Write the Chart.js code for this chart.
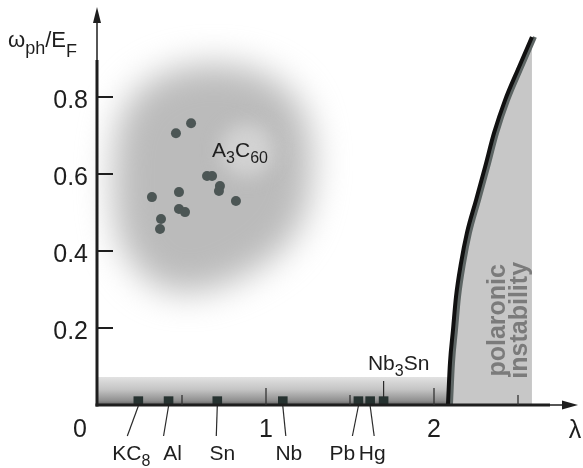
<!DOCTYPE html>
<html>
<head>
<meta charset="utf-8">
<script src="https://cdn.jsdelivr.net/npm/chart.js@4/dist/chart.umd.min.js"></script>
<style>
  html, body { margin: 0; padding: 0; background: #ffffff; }
  canvas { display: block; }
</style>
</head>
<body>
<canvas id="c" width="583" height="468"></canvas>
<script>
// A3C60 fullerides: electron-phonon coupling and phonon/Fermi energy ratio
const fullerideLambda = [0.321, 0.464, 0.554, 0.482, 0.375, 0.369, 0.482, 0.518, 0.649, 0.679, 0.726, 0.720, 0.821];
const fullerideRatio  = [0.540, 0.706, 0.732, 0.553, 0.483, 0.457, 0.509, 0.501, 0.595, 0.595, 0.569, 0.556, 0.530];

// conventional superconductors on the lambda axis
const metalNames  = ['KC8', 'Al', 'Sn', 'Nb', 'Pb', 'Hg', 'Nb3Sn'];
const metalLambda = [0.24, 0.42, 0.71, 1.10, 1.55, 1.62, 1.70];
const metalRatio  = [0.01, 0.01, 0.01, 0.01, 0.01, 0.01, 0.01];

// boundary of the polaronic instability
const boundaryLambda = [2.083, 2.095, 2.113, 2.131, 2.161, 2.196, 2.250, 2.304, 2.357, 2.423, 2.506, 2.583];
const boundaryRatio  = [0.000, 0.109, 0.195, 0.281, 0.369, 0.447, 0.532, 0.618, 0.706, 0.792, 0.878, 0.956];

// adiabatic strip of ordinary metals (omega_ph << E_F)
const stripLambda = [0, 2.083];
const stripRatio  = [0.073, 0.073];

// outline of the fulleride cloud
const cloudLambda = [0.13, 0.42, 0.88, 1.22, 1.30, 1.20, 0.80, 0.40, 0.12, 0.08];
const cloudRatio  = [0.78, 0.88, 0.89, 0.80, 0.62, 0.43, 0.31, 0.28, 0.40, 0.59];

// axis ticks
const xTickValues = [0, 1, 2];
const xTickLabels = ['0', '1', '2'];
const xMarkValues = [0.5, 1, 1.5, 2, 2.5];
const yTickValues = [0.2, 0.4, 0.6, 0.8];
const yTickLabels = ['0.2', '0.4', '0.6', '0.8'];

const FONT = '"Liberation Sans", Arial, Helvetica, sans-serif';
const INK = '#1e1e1e';

// label layout for the metals (pixel offsets from each square)
const metalLabelDx  = [-7, 4, 5, 6, -16, 2, 15];
const metalLeaderDx = [-11, -5, -1, 3, -6, 4, 0];

const pts = (xs, ys) => xs.map((v, i) => ({ x: v, y: ys[i] }));

// draw a sequence of text runs; runs with sub=true are subscripts
function drawRuns(ctx, runs, x, y, size, subSize, align) {
  const widths = runs.map(r => {
    ctx.font = `${r.sub ? subSize : size}px ${FONT}`;
    return ctx.measureText(r.t).width;
  });
  const total = widths.reduce((a, b) => a + b, 0);
  let cx = align === 'center' ? x - total / 2 : x;
  ctx.textAlign = 'left';
  ctx.textBaseline = 'alphabetic';
  runs.forEach((r, i) => {
    ctx.font = `${r.sub ? subSize : size}px ${FONT}`;
    ctx.fillText(r.t, cx, y + (r.sub ? (r.dy || 6) : 0));
    cx += widths[i];
  });
}

// chemical formula: digits become subscripts
function formulaRuns(text) {
  const runs = [];
  for (const ch of text) {
    const sub = /[0-9]/.test(ch);
    const last = runs[runs.length - 1];
    if (last && last.sub === sub) last.t += ch; else runs.push({ t: ch, sub });
  }
  return runs;
}

const cloudPlugin = {
  id: 'cloud',
  beforeDatasetsDraw(chart) {
    const { ctx, scales: { x, y } } = chart;
    const p = cloudLambda.map((v, i) => [x.getPixelForValue(v), y.getPixelForValue(cloudRatio[i])]);
    const n = p.length;
    const mid = (a, b) => [(a[0] + b[0]) / 2, (a[1] + b[1]) / 2];
    ctx.save();
    ctx.filter = 'blur(17px)';
    ctx.fillStyle = '#bbbbbb';
    ctx.beginPath();
    const m0 = mid(p[n - 1], p[0]);
    ctx.moveTo(m0[0], m0[1]);
    for (let i = 0; i < n; i++) {
      const m = mid(p[i], p[(i + 1) % n]);
      ctx.quadraticCurveTo(p[i][0], p[i][1], m[0], m[1]);
    }
    ctx.closePath();
    ctx.fill();
    // lighter patch behind the A3C60 label
    ctx.filter = 'blur(9px)';
    ctx.fillStyle = '#d2d2d2';
    ctx.beginPath();
    ctx.arc(x.getPixelForValue(0.887), y.getPixelForValue(0.662), 27, 0, Math.PI * 2);
    ctx.fill();
    ctx.restore();
  }
};

const shadowPlugin = {
  id: 'boundaryShadow',
  beforeDatasetDraw(chart, args) {
    if (chart.data.datasets[args.index].id !== 'boundaryLine') return;
    const ctx = chart.ctx;
    ctx.save();
    ctx.shadowColor = '#5d6564';
    ctx.shadowOffsetX = 3;
    ctx.shadowOffsetY = 0;
    ctx.shadowBlur = 0;
  },
  afterDatasetDraw(chart, args) {
    if (chart.data.datasets[args.index].id !== 'boundaryLine') return;
    chart.ctx.restore();
  }
};

const axesPlugin = {
  id: 'arrowAxes',
  afterDatasetsDraw(chart) {
    const { ctx, chartArea: a, scales: { x, y } } = chart;
    const x0 = x.getPixelForValue(0) - 1;
    const y0 = y.getPixelForValue(0);
    ctx.save();
    ctx.strokeStyle = INK;
    ctx.fillStyle = INK;
    ctx.lineCap = 'butt';

    // vertical axis with arrow
    ctx.lineWidth = 3;
    ctx.beginPath(); ctx.moveTo(x0, y0 + 1.5); ctx.lineTo(x0, a.top + 52); ctx.stroke();
    ctx.lineWidth = 1.5;
    ctx.beginPath(); ctx.moveTo(x0, a.top + 52); ctx.lineTo(x0, a.top + 12); ctx.stroke();
    ctx.beginPath();
    ctx.moveTo(x0, a.top - 1); ctx.lineTo(x0 - 4, a.top + 15); ctx.lineTo(x0 + 4, a.top + 15);
    ctx.closePath(); ctx.fill();

    // horizontal axis with arrow
    ctx.lineWidth = 3;
    ctx.beginPath(); ctx.moveTo(x0 - 1.5, y0); ctx.lineTo(a.right - 25, y0); ctx.stroke();
    ctx.lineWidth = 1.5;
    ctx.beginPath(); ctx.moveTo(a.right - 25, y0); ctx.lineTo(a.right - 10, y0); ctx.stroke();
    ctx.beginPath();
    ctx.moveTo(a.right + 3, y0); ctx.lineTo(a.right - 13, y0 - 4.5); ctx.lineTo(a.right - 13, y0 + 4.5);
    ctx.closePath(); ctx.fill();

    // tick marks
    ctx.lineWidth = 2;
    yTickValues.forEach(v => {
      const py = y.getPixelForValue(v);
      ctx.beginPath(); ctx.moveTo(x0, py); ctx.lineTo(x0 + 16, py); ctx.stroke();
    });
    ctx.lineWidth = 1.3;
    ctx.strokeStyle = '#333333';
    xMarkValues.forEach(v => {
      const px = x.getPixelForValue(v);
      const len = Number.isInteger(v) ? 17 : 10;
      ctx.beginPath(); ctx.moveTo(px, y0); ctx.lineTo(px, y0 - len); ctx.stroke();
    });

    // tick labels
    ctx.fillStyle = INK;
    ctx.font = `25px ${FONT}`;
    ctx.textBaseline = 'alphabetic';
    ctx.textAlign = 'center';
    xTickValues.forEach((v, i) => {
      const px = x.getPixelForValue(v) + (v === 0 ? -18 : 0);
      ctx.fillText(xTickLabels[i], px, y0 + 32);
    });
    ctx.textAlign = 'right';
    yTickValues.forEach((v, i) => {
      ctx.fillText(yTickLabels[i], x0 - 9, y.getPixelForValue(v) + 11);
    });

    // axis titles
    ctx.font = `25px ${FONT}`;
    ctx.textAlign = 'center';
    ctx.fillText('\u03bb', a.right, y0 + 33);
    drawRuns(ctx, [
      { t: '\u03c9', sub: false },
      { t: 'ph', sub: true, dy: 7 },
      { t: '/E', sub: false },
      { t: 'F', sub: true, dy: 10 }
    ], 8, a.top + 39, 22, 18, 'left');

    // metal labels and leader lines
    ctx.strokeStyle = '#2a2a2a';
    ctx.lineWidth = 1.2;
    metalNames.forEach((name, i) => {
      const px = x.getPixelForValue(metalLambda[i]);
      if (name === 'Nb3Sn') {
        ctx.beginPath(); ctx.moveTo(px, y0 - 24); ctx.lineTo(px, y0 - 8); ctx.stroke();
        drawRuns(ctx, formulaRuns(name), px + metalLabelDx[i], y0 - 35, 21, 16, 'center');
      } else {
        ctx.beginPath(); ctx.moveTo(px, y0 + 1); ctx.lineTo(px + metalLeaderDx[i], y0 + 31); ctx.stroke();
        drawRuns(ctx, formulaRuns(name), px + metalLabelDx[i], y0 + 55, 21, 16, 'center');
      }
    });

    // fulleride label
    drawRuns(ctx, formulaRuns('A3C60'), x.getPixelForValue(0.679), y.getPixelForValue(0.644), 21, 16, 'left');

    // label of the unstable region
    ctx.fillStyle = '#7b7b7b';
    ctx.font = `bold 25px ${FONT}`;
    ctx.textAlign = 'center';
    ctx.textBaseline = 'alphabetic';
    const cy = y.getPixelForValue(0.22);
    [['polaronic', 505], ['instability', 527]].forEach(([t, bx]) => {
      ctx.save();
      ctx.translate(bx, cy);
      ctx.rotate(-Math.PI / 2);
      ctx.fillText(t, 0, 0);
      ctx.restore();
    });
    ctx.restore();
  }
};

new Chart(document.getElementById('c'), {
  type: 'scatter',
  data: {
    datasets: [
      {
        id: 'fullerides',
        data: pts(fullerideLambda, fullerideRatio),
        pointRadius: 5,
        pointBackgroundColor: '#4c5655',
        pointBorderWidth: 0,
        order: 1,
        clip: false
      },
      {
        id: 'metals',
        data: pts(metalLambda, metalRatio),
        pointStyle: 'rect',
        pointRadius: 6.8,
        pointBackgroundColor: '#263230',
        pointBorderWidth: 0,
        order: 2,
        clip: false
      },
      {
        id: 'boundaryLine',
        data: pts(boundaryLambda, boundaryRatio),
        showLine: true,
        borderColor: '#111111',
        borderWidth: 4,
        cubicInterpolationMode: 'monotone',
        pointRadius: 0,
        fill: false,
        order: 3,
        clip: false
      },
      {
        id: 'boundaryFill',
        data: pts(boundaryLambda, boundaryRatio),
        showLine: true,
        borderWidth: 0,
        borderColor: 'rgba(0,0,0,0)',
        backgroundColor: '#c7c7c7',
        cubicInterpolationMode: 'monotone',
        pointRadius: 0,
        fill: 'origin',
        order: 4,
        clip: false
      },
      {
        id: 'strip',
        data: pts(stripLambda, stripRatio),
        showLine: true,
        borderWidth: 0,
        borderColor: 'rgba(0,0,0,0)',
        pointRadius: 0,
        fill: 'origin',
        backgroundColor: (context) => {
          const chart = context.chart;
          if (!chart.chartArea) return '#cccccc';
          const top = chart.scales.y.getPixelForValue(stripRatio[0]);
          const bot = chart.scales.y.getPixelForValue(0);
          const g = chart.ctx.createLinearGradient(0, top, 0, bot);
          g.addColorStop(0, '#e2e2e2');
          g.addColorStop(0.45, '#c4c4c4');
          g.addColorStop(0.85, '#8f8f8f');
          g.addColorStop(1, '#606060');
          return g;
        },
        order: 5,
        clip: false
      }
    ]
  },
  options: {
    responsive: false,
    animation: false,
    events: [],
    layout: { padding: { left: 98, right: 8, top: 8, bottom: 63 } },
    scales: {
      x: { type: 'linear', display: false, min: 0, max: 477 / 168 },
      y: { type: 'linear', display: false, min: 0, max: 397 / 385 }
    },
    plugins: {
      legend: { display: false },
      tooltip: { enabled: false }
    }
  },
  plugins: [cloudPlugin, shadowPlugin, axesPlugin]
});
</script>
</body>
</html>
